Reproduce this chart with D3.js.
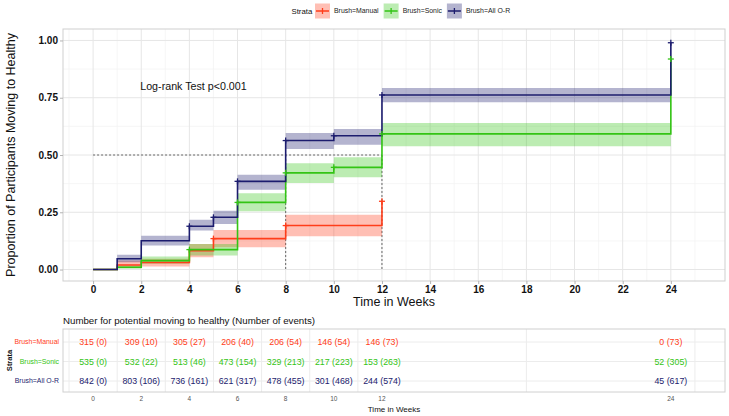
<!DOCTYPE html>
<html><head><meta charset="utf-8">
<script src="https://cdn.jsdelivr.net/npm/d3@7"></script>
<style>body{margin:0;background:#fff}svg{display:block;font-family:"Liberation Sans",Arial,sans-serif}</style>
</head><body><svg id="c" width="729" height="416"></svg>
<script>
// ---------- data ----------
const strata = ["Brush=Manual", "Brush=Sonic", "Brush=All O-R"];
const colors = ["#FF3D1A", "#33C414", "#1C1C6E"];

const manualTime  = [0, 1, 2, 4, 5, 8, 12];
const manualSurv  = [0, 0.020, 0.031, 0.082, 0.135, 0.192, 0.298];
const manualUpper = [0, 0.039, 0.047, 0.112, 0.173, 0.239, 0.298];
const manualLower = [0, 0.007, 0.013, 0.054, 0.097, 0.145, 0.298];
const manualCensor = [5, 8, 12];

const sonicTime  = [0, 1, 2, 4, 6, 8, 10, 12, 24];
const sonicSurv  = [0, 0.010, 0.039, 0.087, 0.293, 0.422, 0.446, 0.592, 0.919];
const sonicUpper = [0, 0.018, 0.057, 0.112, 0.333, 0.464, 0.490, 0.640, 0.919];
const sonicLower = [0, 0.003, 0.025, 0.061, 0.254, 0.378, 0.403, 0.538, 0.919];
const sonicCensor = [4, 6, 8, 10, 12, 24];

const allTime  = [0, 1, 2, 4, 5, 6, 8, 10, 12, 24];
const allSurv  = [0, 0.047, 0.126, 0.189, 0.228, 0.385, 0.563, 0.584, 0.762, 0.990];
const allUpper = [0, 0.065, 0.148, 0.217, 0.257, 0.414, 0.596, 0.614, 0.792, 0.990];
const allLower = [0, 0.032, 0.105, 0.170, 0.199, 0.348, 0.526, 0.545, 0.730, 0.990];
const allCensor = [4, 5, 6, 8, 10, 12, 24];

const xTicks = [0, 2, 4, 6, 8, 10, 12, 14, 16, 18, 20, 22, 24];
const yTicks = [0, 0.25, 0.5, 0.75, 1];
const medianLines = [8, 12];

const tableTimes = [0, 2, 4, 6, 8, 10, 12, 24];
const manualAtRisk = [315, 309, 305, 206, 206, 146, 146, 0];
const manualEvents = [0, 10, 27, 40, 54, 54, 73, 73];
const sonicAtRisk  = [535, 532, 513, 473, 329, 217, 153, 52];
const sonicEvents  = [0, 22, 46, 154, 213, 223, 263, 305];
const allAtRisk    = [842, 803, 736, 621, 478, 301, 244, 45];
const allEvents    = [0, 106, 161, 317, 455, 468, 574, 617];

// ---------- build ----------
const series = [
  {name: strata[0], col: colors[0], t: manualTime, s: manualSurv, u: manualUpper, l: manualLower, c: manualCensor, n: manualAtRisk, e: manualEvents},
  {name: strata[1], col: colors[1], t: sonicTime, s: sonicSurv, u: sonicUpper, l: sonicLower, c: sonicCensor, n: sonicAtRisk, e: sonicEvents},
  {name: strata[2], col: colors[2], t: allTime, s: allSurv, u: allUpper, l: allLower, c: allCensor, n: allAtRisk, e: allEvents}
];
series.forEach(d => d.pts = d.t.map((t, i) => ({t, s: d.s[i], u: d.u[i], l: d.l[i]})));
function stepVal(d, t) { let v = 0; d.pts.forEach(p => { if (p.t <= t) v = p.s; }); return v; }

const svg = d3.select("#c");
const P = {l: 63, r: 725, t: 29, b: 281};
const x = d3.scaleLinear().domain([-1.25, 26.25]).range([P.l, P.r]);
const y = d3.scaleLinear().domain([-0.05, 1.05]).range([P.b, P.t]);

// grid
const g = svg.append("g");
const minorX = d3.range(-1, 26, 2);
const minorY = [0.125, 0.375, 0.625, 0.875];
g.selectAll(".mx").data(minorX).join("line").attr("x1", d => x(d)).attr("x2", d => x(d)).attr("y1", P.t).attr("y2", P.b).attr("stroke", "#f2f2f2").attr("stroke-width", 0.7);
g.selectAll(".my").data(minorY).join("line").attr("y1", d => y(d)).attr("y2", d => y(d)).attr("x1", P.l).attr("x2", P.r).attr("stroke", "#f2f2f2").attr("stroke-width", 0.7);
g.selectAll(".gx").data(xTicks).join("line").attr("x1", d => x(d)).attr("x2", d => x(d)).attr("y1", P.t).attr("y2", P.b).attr("stroke", "#e6e6e6").attr("stroke-width", 1);
g.selectAll(".gy").data(yTicks).join("line").attr("y1", d => y(d)).attr("y2", d => y(d)).attr("x1", P.l).attr("x2", P.r).attr("stroke", "#e6e6e6").attr("stroke-width", 1);
svg.append("rect").attr("x", P.l).attr("y", P.t).attr("width", P.r - P.l).attr("height", P.b - P.t).attr("fill", "none").attr("stroke", "#cfcfcf").attr("stroke-width", 1);

// axes
const xAxis = svg.append("g").attr("transform", `translate(0,${P.b})`).call(d3.axisBottom(x).tickValues(xTicks).tickSize(3).tickPadding(2).tickFormat(d3.format("d")));
const yAxis = svg.append("g").attr("transform", `translate(${P.l},0)`).call(d3.axisLeft(y).tickValues(yTicks).tickSize(3).tickPadding(2).tickFormat(d3.format(".2f")));
[xAxis, yAxis].forEach(a => {
  a.select(".domain").remove();
  a.selectAll(".tick line").attr("stroke", "#b3b3b3");
  a.selectAll("text").attr("font-family", "Liberation Sans, Arial, sans-serif").attr("font-size", 10).attr("font-weight", "bold").attr("fill", "#111");
});

// median lines
svg.append("line").attr("x1", x(0)).attr("x2", x(12)).attr("y1", y(0.5)).attr("y2", y(0.5)).attr("stroke", "#444").attr("stroke-width", 0.8).attr("stroke-dasharray", "2,2");
svg.selectAll(".med").data(medianLines).join("line").attr("x1", d => x(d)).attr("x2", d => x(d)).attr("y1", y(0.5)).attr("y2", y(0)).attr("stroke", "#444").attr("stroke-width", 0.8).attr("stroke-dasharray", "2,2");

// bands
const area = d3.area().curve(d3.curveStepAfter).x(d => x(d.t)).y0(d => y(d.l)).y1(d => y(d.u));
svg.selectAll(".band").data(series).join("path").attr("d", d => area(d.pts)).attr("fill", d => d.col).attr("fill-opacity", 0.33);
// lines
const line = d3.line().curve(d3.curveStepAfter).x(d => x(d.t)).y(d => y(d.s));
svg.selectAll(".ln").data(series).join("path").attr("d", d => line(d.pts)).attr("fill", "none").attr("stroke", d => d.col).attr("stroke-width", 1.6);
// censor marks
series.forEach(d => {
  const cg = svg.append("g");
  d.c.forEach(t => {
    const cx = x(t), cy = y(stepVal(d, t));
    cg.append("line").attr("x1", cx - 3).attr("x2", cx + 3).attr("y1", cy).attr("y2", cy).attr("stroke", d.col).attr("stroke-width", 1.3);
    cg.append("line").attr("x1", cx).attr("x2", cx).attr("y1", cy - 3).attr("y2", cy + 3).attr("stroke", d.col).attr("stroke-width", 1.3);
  });
});

// log-rank text
svg.append("text").attr("x", x(2) - 1).attr("y", y(0.8)).attr("dy", "0.35em").attr("font-size", 10.7).attr("fill", "#111").text("Log-rank Test p<0.001");

// axis titles
svg.append("text").attr("x", (P.l + P.r) / 2).attr("y", 306).attr("text-anchor", "middle").attr("font-size", 12.5).attr("fill", "#111").text("Time in Weeks");
svg.append("text").attr("transform", `translate(15,${(P.t + P.b) / 2}) rotate(-90)`).attr("text-anchor", "middle").attr("font-size", 12.5).attr("fill", "#111").text("Proportion of Participants Moving to Healthy");

// legend
const lg = svg.append("g");
lg.append("text").attr("x", 291.5).attr("y", 11).attr("dy", "0.35em").attr("font-size", 7.8).attr("fill", "#111").text("Strata");
let lx = 315;
series.forEach(d => {
  lg.append("rect").attr("x", lx).attr("y", 3.5).attr("width", 15).attr("height", 15).attr("fill", d.col).attr("fill-opacity", 0.33);
  lg.append("line").attr("x1", lx + 1).attr("x2", lx + 14).attr("y1", 11).attr("y2", 11).attr("stroke", d.col).attr("stroke-width", 1.5);
  lg.append("line").attr("x1", lx + 7.5).attr("x2", lx + 7.5).attr("y1", 8).attr("y2", 14).attr("stroke", d.col).attr("stroke-width", 1.3);
  const t = lg.append("text").attr("x", lx + 19).attr("y", 11).attr("dy", "0.35em").attr("font-size", 6.9).attr("fill", "#222").text(d.name);
  lx += 19 + t.node().getComputedTextLength() + 5;
});

// ---------- risk table ----------
const T = {t: 329, b: 392};
const ty = d3.scalePoint().domain(strata).range([342, 381]);
svg.append("text").attr("x", 63).attr("y", 324).attr("font-size", 9.7).attr("fill", "#111").text("Number for potential moving to healthy (Number of events)");
const tg = svg.append("g");
const tMinor = [-1, 1, 3, 5, 7, 9, 11, 18, 25];
tg.selectAll(".tv").data(tMinor).join("line").attr("x1", d => x(d)).attr("x2", d => x(d)).attr("y1", T.t).attr("y2", T.b).attr("stroke", "#ececec").attr("stroke-width", 1);
tg.selectAll(".th").data(strata).join("line").attr("x1", P.l).attr("x2", P.r).attr("y1", d => ty(d)).attr("y2", d => ty(d)).attr("stroke", "#ececec").attr("stroke-width", 1);
svg.append("rect").attr("x", P.l).attr("y", T.t).attr("width", P.r - P.l).attr("height", T.b - T.t).attr("fill", "none").attr("stroke", "#d0d0d0").attr("stroke-width", 1);
series.forEach(d => {
  svg.append("g").selectAll("text").data(tableTimes).join("text")
    .attr("x", t => x(t)).attr("y", ty(d.name)).attr("dy", "0.35em").attr("text-anchor", "middle")
    .attr("font-size", 8.8).attr("fill", d.col)
    .text((t, i) => `${d.n[i]} (${d.e[i]})`);
  svg.append("text").attr("x", 59).attr("y", ty(d.name)).attr("dy", "0.35em").attr("text-anchor", "end").attr("font-size", 6.9).attr("fill", d.col).text(d.name);
});
svg.append("text").attr("transform", `translate(12,${(T.t + T.b) / 2}) rotate(-90)`).attr("text-anchor", "middle").attr("font-size", 7.5).attr("font-weight", "bold").attr("fill", "#111").text("Strata");
svg.append("g").selectAll("text").data(tableTimes).join("text").attr("x", t => x(t)).attr("y", 401).attr("text-anchor", "middle").attr("font-size", 6.5).attr("fill", "#555").text(t => t);
svg.append("text").attr("x", (P.l + P.r) / 2).attr("y", 411.5).attr("text-anchor", "middle").attr("font-size", 8).attr("fill", "#111").text("Time in Weeks");
</script></body></html>
